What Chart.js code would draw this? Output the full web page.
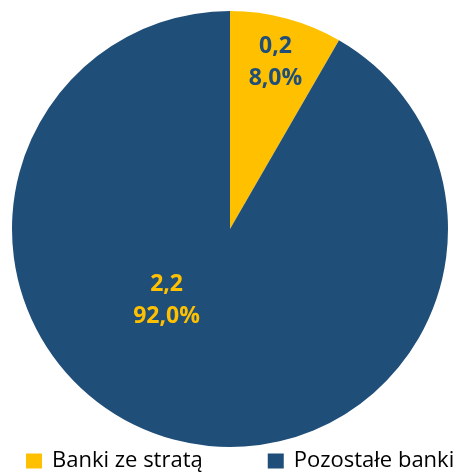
<!DOCTYPE html>
<html><head><meta charset="utf-8">
<script src="https://cdn.jsdelivr.net/npm/chart.js@4"></script>
<style>html,body{margin:0;padding:0;background:#fff;}#wrap{width:466px;height:473px;}</style>
</head><body><div id="wrap"><canvas id="c"></canvas></div>
<script>
const categories = ["Banki ze stratą", "Pozostałe banki"];
const values = [0.2, 2.2];
const shares = ["8,0%", "92,0%"];
const colors = ["#FFC000", "#1F4E79"];
const labelColors = ["#1F4E79", "#FFC000"];

const labelPlugin = {
  id: 'sliceLabels',
  afterDatasetsDraw(chart, args, opts) {
    const ctx = chart.ctx;
    const meta = chart.getDatasetMeta(0);
    meta.data.forEach((arc, i) => {
      const p = opts.place[i];
      const ang = arc.startAngle + (arc.endAngle - arc.startAngle) * p.frac;
      const r = arc.outerRadius * p.r;
      const x = arc.x + Math.cos(ang) * r;
      const y = arc.y + Math.sin(ang) * r;
      ctx.save();
      ctx.fillStyle = labelColors[i];
      ctx.font = 'bold 23px "Open Sans", sans-serif';
      ctx.textAlign = 'center';
      ctx.textBaseline = 'middle';
      const v = values[i].toFixed(1).replace('.', ',');
      ctx.fillText(v, x, y - 16);
      ctx.fillText(shares[i], x, y + 16);
      ctx.restore();
    });
  }
};

const legendPlugin = {
  id: 'customLegend',
  afterDraw(chart, args, opts) {
    const ctx = chart.ctx;
    ctx.save();
    ctx.font = opts.fontSize + 'px "Open Sans", sans-serif';
    ctx.textBaseline = 'middle';
    ctx.textAlign = 'left';
    let x = opts.startX;
    const y = opts.y;
    categories.forEach((label, i) => {
      ctx.fillStyle = colors[i];
      ctx.fillRect(x, y - opts.boxH / 2, opts.boxW, opts.boxH);
      x += opts.boxW + opts.textGap;
      ctx.fillStyle = '#000';
      ctx.fillText(label, x, y);
      x += ctx.measureText(label).width + opts.itemGap;
    });
    ctx.restore();
  }
};

new Chart(document.getElementById('c'), {
  type: 'pie',
  data: {
    labels: categories,
    datasets: [{ data: values, backgroundColor: colors, borderWidth: 0 }]
  },
  options: {
    responsive: true,
    maintainAspectRatio: false,
    animation: false,
    layout: { padding: { left: 12, right: 18, top: 11, bottom: 26 } },
    plugins: {
      tooltip: { enabled: false },
      legend: { display: false },
      sliceLabels: { place: [ { frac: 0.51, r: 0.79 }, { frac: 0.58, r: 0.44 } ] },
      customLegend: { startX: 26, y: 461, boxW: 16, boxH: 15, textGap: 10, itemGap: 65, fontSize: 22 }
    }
  },
  plugins: [labelPlugin, legendPlugin]
});
</script></body></html>
